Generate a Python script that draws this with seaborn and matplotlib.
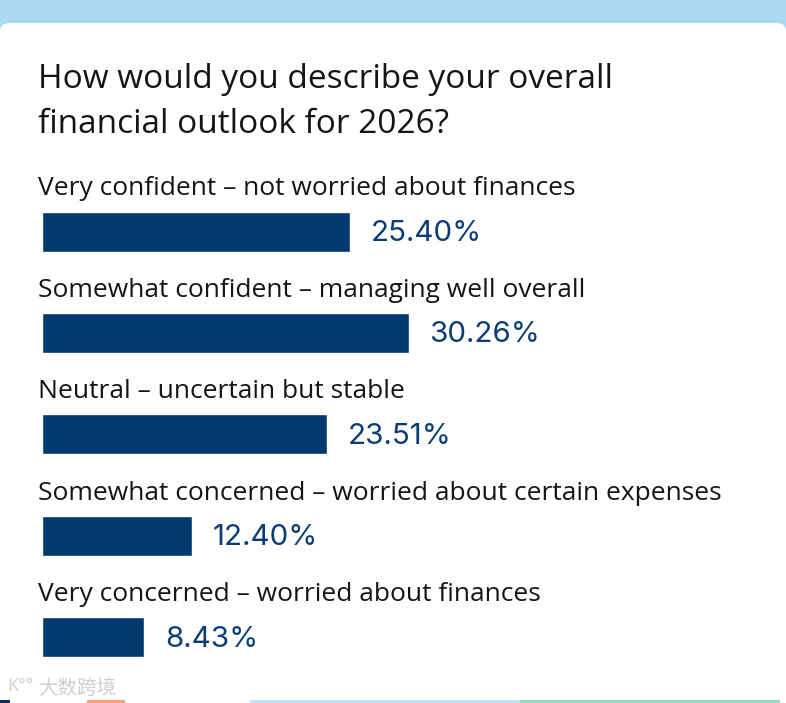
import seaborn as sns
import matplotlib.pyplot as plt
from matplotlib.patches import Rectangle, FancyBboxPatch

# survey answers and their share of respondents (%)
categories = [
    "Very confident – not worried about finances",
    "Somewhat confident – managing well overall",
    "Neutral – uncertain but stable",
    "Somewhat concerned – worried about certain expenses",
    "Very concerned – worried about finances",
]
shares = [25.40, 30.26, 23.51, 12.40, 8.43]

title = "How would you describe your overall\nfinancial outlook for 2026?"

NAVY = "#023a70"
VALUE_COLOR = "#0b3d75"
TEXT_COLOR = "#151515"

sns.set_theme(style="white")
plt.rcParams["font.family"] = ["Open Sans", "DejaVu Sans"]

W, H = 786, 703
fig = plt.figure(figsize=(W / 100, H / 100), dpi=100)
fig.patch.set_facecolor("white")

# light blue band at the top and the white card below it
fig.patches.append(Rectangle((0, 1 - 40 / H), 1, 40 / H, transform=fig.transFigure,
                             facecolor="#aad9f4", edgecolor="none", zorder=0))
fig.patches.append(FancyBboxPatch((0.0, -0.05), 1.0, 1.05 - 23 / H,
                                  boxstyle="round,pad=0,rounding_size=0.012",
                                  transform=fig.transFigure, facecolor="white",
                                  edgecolor="none", zorder=1))
# thin coloured strips along the bottom edge
for x0, x1, c in [(0, 10, "#0b2a55"), (87, 125, "#f4a27c"), (250, 520, "#bfe3f5"), (520, 780, "#9ad8c4")]:
    fig.patches.append(Rectangle((x0 / W, 0), (x1 - x0) / W, 3 / H, transform=fig.transFigure,
                                 facecolor=c, edgecolor="none", zorder=2))

fig.text(38 / W, 1 - 102 / H, title, fontsize=24, color=TEXT_COLOR, fontweight="medium",
         ha="left", va="center", linespacing=1.45, zorder=5)

px_per_unit = 12.13
top_px, bot_px = 130.2, 687.7
ax = fig.add_axes([41.5 / W, 1 - bot_px / H, (W - 41.5) / W, (bot_px - top_px) / H])
ax.patch.set_alpha(0)
ax.set_zorder(5)

sns.barplot(x=shares, y=categories, orient="h", color=NAVY, saturation=1,
            width=0.395, ax=ax)
ax.set_xlim(0, (W - 41.5) / px_per_unit)
ax.set_ylim(4.5, -1.0)
ax.set_axis_off()

for i, (cat, v) in enumerate(zip(categories, shares)):
    ax.text(-3 / px_per_unit, i - 0.42, cat, fontsize=19, color=TEXT_COLOR,
            ha="left", va="center", clip_on=False)
    ax.text(v + 21 / px_per_unit, i + 0.02, f"{v:.2f}%", fontsize=21.3, color=VALUE_COLOR,
            family=["Inter", "DejaVu Sans"], ha="left", va="center", clip_on=False)

# faint watermark in the lower left corner
fig.text(38 / W, 1 - 688 / H, "大数跨境", fontsize=14, color="#cfcfcf",
         family=["Noto Sans CJK SC", "DejaVu Sans"], ha="left", va="center", zorder=6)
fig.text(7 / W, 1 - 686 / H, "K°°", fontsize=13, color="#cfcfcf",
         ha="left", va="center", zorder=6)

fig.savefig("out.png", dpi=100, facecolor=fig.get_facecolor())
